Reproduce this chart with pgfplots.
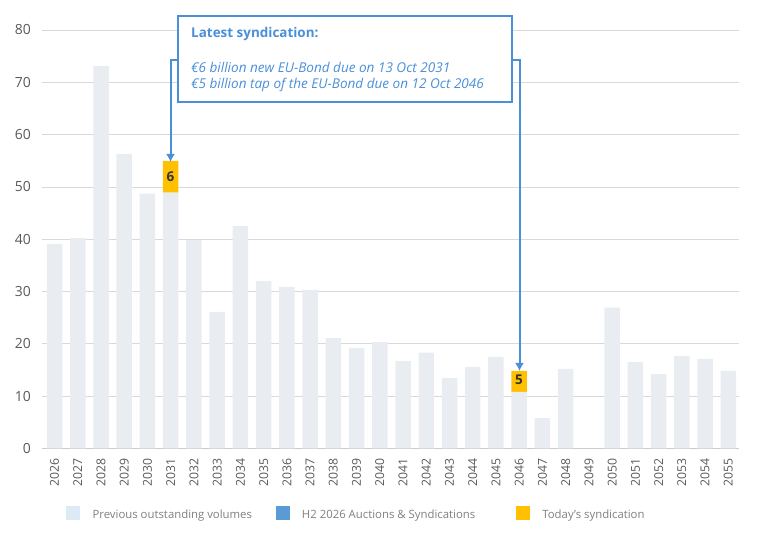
\documentclass[border=0pt]{standalone}
\usepackage{fontspec}
\setmainfont{Open Sans}
\usepackage{pgfplots}
\pgfplotsset{compat=1.18}
\usetikzlibrary{arrows.meta}
\definecolor{barg}{HTML}{E9ECF1}
\definecolor{ylw}{HTML}{FFC000}
\definecolor{lblue}{HTML}{DDEAF6}
\definecolor{mblue}{HTML}{5B9BD5}
\definecolor{boxblue}{HTML}{4A90D9}
\definecolor{ticktxt}{HTML}{595959}
\definecolor{legtxt}{HTML}{7F7F7F}
\definecolor{gridc}{HTML}{D9D9D9}
\definecolor{axc}{HTML}{CCCCCC}
\begin{document}
\begin{tikzpicture}
\useasboundingbox (0bp,0bp) rectangle (757bp,537bp);
\begin{axis}[
  at={(42bp,88.6bp)}, anchor=south west,
  width=697bp, height=418.4bp, scale only axis,
  ybar stacked, bar width=0.667,
  xmin=-0.54, xmax=29.46, ymin=0, ymax=80,
  enlargelimits=false,
  xtick={0,...,29},
  xticklabels={2026,2027,2028,2029,2030,2031,2032,2033,2034,2035,2036,2037,2038,2039,2040,2041,2042,2043,2044,2045,2046,2047,2048,2049,2050,2051,2052,2053,2054,2055},
  ytick={0,10,...,80},
  axis lines*=left,
  y axis line style={draw=none},
  x axis line style={draw=axc, line width=1bp},
  major tick length=0pt,
  ymajorgrids, major grid style={draw=gridc, line width=0.8bp},
  /pgf/number format/assume math mode=true,
  ticklabel style={text=ticktxt},
  xticklabel style={rotate=90, anchor=east, inner sep=0pt, font=\fontsize{12.3}{14}\selectfont},
  yticklabel style={anchor=east, inner sep=0pt, font=\fontsize{14}{16}\selectfont},
  xticklabel shift=9.6bp,
  yticklabel shift=11bp,
  legend columns=3,
  legend style={at={(0.03443,-0.1542)}, anchor=west, draw=none, fill=none, inner sep=0pt,
    font=\fontsize{11.4}{13}\selectfont, text=legtxt,
    nodes={inner sep=0pt, anchor=base west},
    /tikz/every odd column/.append style={column sep=13bp}},
  clip=false,
]
\addplot+[fill=barg, draw=none, forget plot] coordinates {
(0,39.1) (1,40.2) (2,73.1) (3,56.3) (4,48.7) (5,48.9) (6,39.8) (7,26.1) (8,42.5) (9,32.0)
(10,30.9) (11,30.3) (12,21.1) (13,19.2) (14,20.3) (15,16.7) (16,18.3) (17,13.5) (18,15.6) (19,17.5)
(20,10.8) (21,5.8) (22,15.2) (23,0) (24,26.9) (25,16.5) (26,14.2) (27,17.7) (28,17.1) (29,14.8)};
\addplot+[fill=ylw, draw=none, forget plot] coordinates {
(0,0) (1,0) (2,0) (3,0) (4,0) (5,6.1) (6,0) (7,0) (8,0) (9,0)
(10,0) (11,0) (12,0) (13,0) (14,0) (15,0) (16,0) (17,0) (18,0) (19,0)
(20,4.0) (21,0) (22,0) (23,0) (24,0) (25,0) (26,0) (27,0) (28,0) (29,0)};
\addlegendimage{legend image code/.code={\fill[lblue] (0bp,-0.5bp) rectangle (13bp,12.5bp);}}
\addlegendentry{\makebox[183bp][l]{Previous outstanding volumes}}
\addlegendimage{legend image code/.code={\fill[mblue] (0bp,-0.5bp) rectangle (13bp,12.5bp);}}
\addlegendentry{\makebox[214bp][l]{H2 2026 Auctions \& Syndications}}
\addlegendimage{legend image code/.code={\fill[ylw] (0bp,-0.5bp) rectangle (13bp,12.5bp);}}
\addlegendentry{Today's syndication}
\end{axis}
% value labels
\node[font=\bfseries\fontsize{13.5}{15}\selectfont, text=black!80] at (170.5bp,360.3bp) {6};
\node[font=\bfseries\fontsize{13.5}{15}\selectfont, text=black!80] at (519bp,157bp) {5};
% arrows
\draw[boxblue, line width=2bp, -{Latex[length=8bp,width=9bp]}] (178bp,477bp) -- (170.5bp,477bp) -- (170.5bp,375bp);
\draw[boxblue, line width=2bp, -{Latex[length=8bp,width=9bp]}] (511bp,477bp) -- (519.5bp,477bp) -- (519.5bp,166bp);
% callout box
\draw[boxblue, line width=2bp, fill=white] (177.5bp,520.5bp) rectangle (511.5bp,434.5bp);
\node[anchor=base west, inner sep=0pt, text=boxblue, font=\bfseries\fontsize{13.5}{15}\selectfont] at (191bp,499.7bp) {Latest syndication:};
\node[anchor=base west, inner sep=0pt, text=boxblue, font=\itshape\fontsize{13.6}{15}\selectfont] at (191bp,464.7bp) {€6 billion new EU-Bond due on 13 Oct 2031};
\node[anchor=base west, inner sep=0pt, text=boxblue, font=\itshape\fontsize{13.6}{15}\selectfont] at (191bp,448.7bp) {€5 billion tap of the EU-Bond due on 12 Oct 2046};
\end{tikzpicture}
\end{document}
